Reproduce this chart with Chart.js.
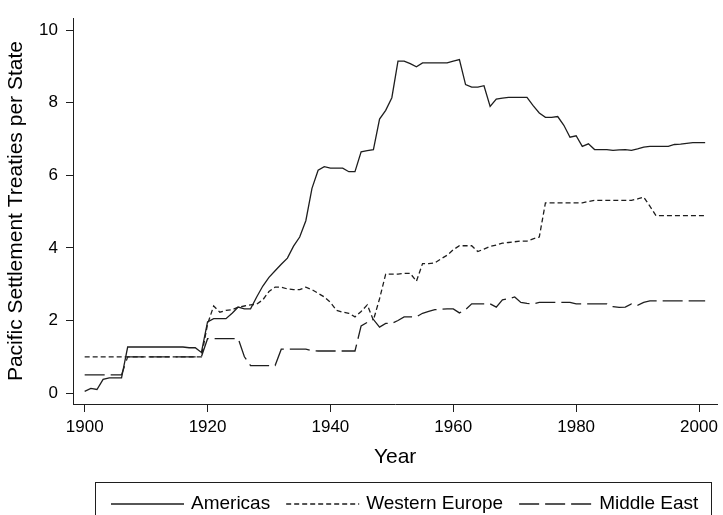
<!DOCTYPE html>
<html>
<head>
<meta charset="utf-8">
<script src="https://cdn.jsdelivr.net/npm/chart.js@4/dist/chart.umd.min.js"></script>
<style>
  html, body { margin: 0; padding: 0; background: #fff; }
  #chart { display: block; }
</style>
</head>
<body>
<canvas id="chart" width="723" height="515"></canvas>
<script>
// Pacific settlement treaties per state, by region

const years = [
  1900, 1901, 1902, 1903, 1904, 1905, 1906, 1907, 1908, 1909,
  1910, 1911, 1912, 1913, 1914, 1915, 1916, 1917, 1918, 1919,
  1920, 1921, 1922, 1923, 1924, 1925, 1926, 1927, 1928, 1929,
  1930, 1931, 1932, 1933, 1934, 1935, 1936, 1937, 1938, 1939,
  1940, 1941, 1942, 1943, 1944, 1945, 1946, 1947, 1948, 1949,
  1950, 1951, 1952, 1953, 1954, 1955, 1956, 1957, 1958, 1959,
  1960, 1961, 1962, 1963, 1964, 1965, 1966, 1967, 1968, 1969,
  1970, 1971, 1972, 1973, 1974, 1975, 1976, 1977, 1978, 1979,
  1980, 1981, 1982, 1983, 1984, 1985, 1986, 1987, 1988, 1989,
  1990, 1991, 1992, 1993, 1994, 1995, 1996, 1997, 1998, 1999,
  2000, 2001
];

const americas = [
  0.05, 0.13, 0.10, 0.38, 0.42, 0.42, 0.42, 1.27, 1.27, 1.27,
  1.27, 1.27, 1.27, 1.27, 1.27, 1.27, 1.27, 1.25, 1.25, 1.12,
  1.96, 2.05, 2.05, 2.05, 2.20, 2.37, 2.32, 2.32, 2.65, 2.95,
  3.19, 3.37, 3.55, 3.72, 4.05, 4.30, 4.75, 5.64, 6.14, 6.24,
  6.20, 6.20, 6.20, 6.10, 6.10, 6.65, 6.68, 6.71, 7.55, 7.79,
  8.14, 9.15, 9.15, 9.08, 8.99, 9.10, 9.10, 9.10, 9.10, 9.10,
  9.15, 9.19, 8.50, 8.43, 8.43, 8.47, 7.90, 8.10, 8.13, 8.15,
  8.15, 8.15, 8.15, 7.92, 7.72, 7.60, 7.60, 7.62, 7.38, 7.05,
  7.09, 6.80, 6.87, 6.71, 6.71, 6.71, 6.69, 6.70, 6.71, 6.69,
  6.73, 6.78, 6.80, 6.80, 6.80, 6.80, 6.85, 6.86, 6.88, 6.90,
  6.90, 6.90
];

const westernEurope = [
  1.00, 1.00, 1.00, 1.00, 1.00, 1.00, 1.00, 1.00, 1.00, 1.00,
  1.00, 1.00, 1.00, 1.00, 1.00, 1.00, 1.00, 1.00, 1.00, 1.00,
  1.90, 2.40, 2.23, 2.28, 2.30, 2.37, 2.40, 2.43, 2.45, 2.57,
  2.80, 2.92, 2.92, 2.87, 2.85, 2.85, 2.92, 2.85, 2.75, 2.65,
  2.50, 2.28, 2.23, 2.20, 2.10, 2.25, 2.43, 2.01, 2.60, 3.28,
  3.28, 3.28, 3.30, 3.30, 3.08, 3.57, 3.57, 3.59, 3.70, 3.80,
  3.95, 4.06, 4.06, 4.06, 3.90, 3.97, 4.04, 4.08, 4.13, 4.15,
  4.17, 4.19, 4.19, 4.25, 4.30, 5.24, 5.24, 5.24, 5.24, 5.24,
  5.24, 5.24, 5.28, 5.31, 5.31, 5.31, 5.31, 5.31, 5.31, 5.31,
  5.35, 5.40, 5.15, 4.89, 4.89, 4.89, 4.89, 4.89, 4.89, 4.89,
  4.89, 4.89
];

const middleEast = [
  0.50, 0.50, 0.50, 0.50, 0.50, 0.50, 0.50, 1.00, 1.00, 1.00,
  1.00, 1.00, 1.00, 1.00, 1.00, 1.00, 1.00, 1.00, 1.00, 1.00,
  1.50, 1.50, 1.50, 1.50, 1.50, 1.50, 1.00, 0.76, 0.76, 0.76,
  0.76, 0.76, 1.21, 1.21, 1.21, 1.21, 1.21, 1.17, 1.16, 1.16,
  1.16, 1.16, 1.16, 1.16, 1.16, 1.85, 1.95, 2.03, 1.82, 1.92,
  1.92, 2.00, 2.10, 2.10, 2.10, 2.20, 2.25, 2.30, 2.31, 2.32,
  2.32, 2.21, 2.30, 2.46, 2.46, 2.46, 2.46, 2.37, 2.57, 2.60,
  2.65, 2.50, 2.47, 2.46, 2.50, 2.50, 2.50, 2.50, 2.50, 2.50,
  2.46, 2.46, 2.46, 2.46, 2.46, 2.46, 2.38, 2.36, 2.37, 2.46,
  2.42, 2.50, 2.54, 2.54, 2.54, 2.54, 2.54, 2.54, 2.54, 2.54,
  2.54, 2.54
];

const seriesNames = ['Americas', 'Western Europe', 'Middle East'];
const xTicks = [1900, 1920, 1940, 1960, 1980, 2000];
const yTicks = [0, 2, 4, 6, 8, 10];

const ink = '#1e1e1e';
const fontFamily = '"Liberation Sans", Arial, Helvetica, sans-serif';

function toPoints(values) {
    return values.map((v, i) => ({ x: years[i], y: v }));
}

function lineSet(label, values, dash) {
    return {
        label: label,
        data: toPoints(values),
        borderColor: ink,
        borderWidth: 1.3,
        borderDash: dash,
        pointRadius: 0,
        tension: 0,
        fill: false
    };
}

// Legend in a framed box under the plot
const boxLegend = {
    id: 'boxLegend',
    afterDraw(chart) {
        const ctx = chart.ctx;
        ctx.save();
        ctx.strokeStyle = ink;
        ctx.lineWidth = 1;
        ctx.strokeRect(95.5, 482.5, 616, 60);

        ctx.font = '19px ' + fontFamily;
        ctx.fillStyle = '#000';
        ctx.textBaseline = 'middle';
        const yMid = 504;
        let x = 111;
        chart.data.datasets.forEach(ds => {
            ctx.beginPath();
            ctx.setLineDash(ds.borderDash || []);
            ctx.lineWidth = 1.3;
            ctx.moveTo(x, yMid);
            ctx.lineTo(x + 73, yMid);
            ctx.stroke();
            ctx.setLineDash([]);
            x += 73 + 7;
            ctx.fillText(ds.label, x, yMid);
            x += ctx.measureText(ds.label).width + 16;
        });
        ctx.restore();
    }
};

const ctx = document.getElementById('chart').getContext('2d');
const chart = new Chart(ctx, {
    type: 'line',
    data: {
        datasets: [
            lineSet(seriesNames[0], americas, []),
            lineSet(seriesNames[1], westernEurope, [5, 3]),
            lineSet(seriesNames[2], middleEast, [20, 6])
        ]
    },
    options: {
        responsive: false,
        animation: false,
        devicePixelRatio: 1,
        layout: { padding: { top: 6, right: 3, bottom: 45, left: 0 } },
        plugins: {
            legend: { display: false },
            tooltip: { enabled: false }
        },
        scales: {
            x: {
                type: 'linear',
                min: 1898.1,
                max: 2002.96,
                afterBuildTicks: scale => { scale.ticks = xTicks.map(v => ({ value: v })); },
                afterFit: scale => { scale.height = 66; },
                ticks: {
                    color: '#000',
                    font: { family: fontFamily, size: 17 },
                    padding: 5,
                    maxRotation: 0,
                    callback: v => String(v)
                },
                grid: { drawOnChartArea: false, drawTicks: true, tickLength: 8, color: ink, lineWidth: 1 },
                border: { display: true, color: ink, width: 1 },
                title: {
                    display: true,
                    text: 'Year',
                    color: '#000',
                    font: { family: fontFamily, size: 21 },
                    padding: { top: 0, bottom: 0 }
                }
            },
            y: {
                type: 'linear',
                min: -0.3,
                max: 10.33,
                afterBuildTicks: scale => { scale.ticks = yTicks.map(v => ({ value: v })); },
                afterFit: scale => { scale.width = 73; },
                ticks: {
                    color: '#000',
                    font: { family: fontFamily, size: 17 },
                    padding: 8,
                    callback: v => String(v)
                },
                grid: { drawOnChartArea: false, drawTicks: true, tickLength: 7, color: ink, lineWidth: 1 },
                border: { display: true, color: ink, width: 1 },
                title: {
                    display: true,
                    text: 'Pacific Settlement Treaties per State',
                    color: '#000',
                    font: { family: fontFamily, size: 21 },
                    padding: { top: 4, bottom: 0 }
                }
            }
        }
    },
    plugins: [boxLegend]
});
</script>
</body>
</html>
